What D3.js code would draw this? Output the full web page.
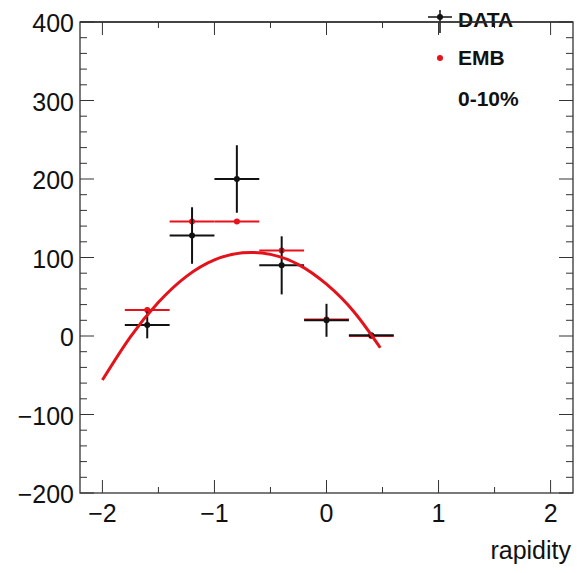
<!DOCTYPE html>
<html>
<head>
<meta charset="utf-8">
<script src="https://cdn.jsdelivr.net/npm/d3@7"></script>
<style>
  body { margin: 0; background: #fff; }
  text { font-family: "Liberation Sans", Arial, sans-serif; }
</style>
</head>
<body>
<div id="chart"></div>
<script>
// data
var binCenters = [-1.6, -1.2, -0.8, -0.4, 0, 0.4]
var binHalfWidth = 0.2
var dataValues = [14, 128, 200, 90, 20, 1]
var dataErrors = [17, 36, 43, 37, 21, 2]
var embValues = [33, 146, 146, 109, 21, 0]
var fitX = [-2, -1.75, -1.5, -1.25, -1, -0.75, -0.5, -0.25, 0, 0.25, 0.48]
var fitY = [-56, -1, 43, 76, 97, 106, 104, 91, 66, 30, -15]
var xTicks = [-2, -1, 0, 1, 2]
var yTicks = [-200, -100, 0, 100, 200, 300, 400]
var legendLabels = ['DATA', 'EMB', '0-10%']

var width = 577, height = 573
var frame = { left: 80, right: 573, top: 22, bottom: 493 }

var svg = d3.select('#chart').append('svg')
  .attr('width', width)
  .attr('height', height)

var x = d3.scaleLinear().domain([-2.2, 2.2]).range([frame.left, frame.right])
var y = d3.scaleLinear().domain([-200, 400]).range([frame.bottom, frame.top])

var axisColor = '#333'
var minus = function (d) { return d < 0 ? '\u2212' + Math.abs(d) : d }

// frame
svg.append('rect')
  .attr('x', frame.left).attr('y', frame.top)
  .attr('width', frame.right - frame.left)
  .attr('height', frame.bottom - frame.top)
  .attr('fill', 'none').attr('stroke', axisColor).attr('stroke-width', 1.3)

// ticks, ROOT style (inside, on all four sides)
var yMinor = d3.range(-200, 401, 20)
yMinor.forEach(function (v) {
  var len = v % 100 === 0 ? 14 : 7
  svg.append('line').attr('x1', frame.left).attr('x2', frame.left + len)
    .attr('y1', y(v)).attr('y2', y(v)).attr('stroke', axisColor)
  svg.append('line').attr('x1', frame.right).attr('x2', frame.right - len)
    .attr('y1', y(v)).attr('y2', y(v)).attr('stroke', axisColor)
})
var xMinor = d3.range(-2, 2.01, 0.5)
xMinor.forEach(function (v) {
  var len = Math.abs(v % 1) < 1e-6 ? 13 : 6
  svg.append('line').attr('x1', x(v)).attr('x2', x(v))
    .attr('y1', frame.bottom).attr('y2', frame.bottom - len).attr('stroke', axisColor)
  svg.append('line').attr('x1', x(v)).attr('x2', x(v))
    .attr('y1', frame.top).attr('y2', frame.top + len).attr('stroke', axisColor)
})

// tick labels
svg.selectAll('.ylab').data(yTicks).enter().append('text')
  .attr('x', frame.left - 6)
  .attr('y', function (d) { return y(d) + 10 })
  .attr('text-anchor', 'end')
  .attr('font-size', 25)
  .attr('fill', '#111')
  .text(minus)

svg.selectAll('.xlab').data(xTicks).enter().append('text')
  .attr('x', function (d) { return x(d) })
  .attr('y', 522)
  .attr('text-anchor', 'middle')
  .attr('font-size', 25)
  .attr('fill', '#111')
  .text(minus)

svg.append('text')
  .attr('x', 571).attr('y', 559)
  .attr('text-anchor', 'end')
  .attr('font-size', 25)
  .attr('fill', '#111')
  .text('rapidity')

// EMB points (red)
binCenters.forEach(function (c, i) {
  svg.append('line')
    .attr('x1', x(c - binHalfWidth)).attr('x2', x(c + binHalfWidth))
    .attr('y1', y(embValues[i])).attr('y2', y(embValues[i]))
    .attr('stroke', '#e8111a').attr('stroke-width', 2)
  svg.append('circle')
    .attr('cx', x(c)).attr('cy', y(embValues[i])).attr('r', 3)
    .attr('fill', '#e8111a')
})

// DATA points (black)
binCenters.forEach(function (c, i) {
  svg.append('line')
    .attr('x1', x(c - binHalfWidth)).attr('x2', x(c + binHalfWidth))
    .attr('y1', y(dataValues[i])).attr('y2', y(dataValues[i]))
    .attr('stroke', '#111').attr('stroke-width', 2)
  svg.append('line')
    .attr('x1', x(c)).attr('x2', x(c))
    .attr('y1', y(dataValues[i] - dataErrors[i])).attr('y2', y(dataValues[i] + dataErrors[i]))
    .attr('stroke', '#111').attr('stroke-width', 2)
  svg.append('circle')
    .attr('cx', x(c)).attr('cy', y(dataValues[i])).attr('r', 3)
    .attr('fill', '#111')
})

// fit curve
var fitPts = fitX.map(function (v, i) { return [v, fitY[i]] })
svg.append('path')
  .datum(fitPts)
  .attr('d', d3.line()
    .x(function (d) { return x(d[0]) })
    .y(function (d) { return y(d[1]) })
    .curve(d3.curveNatural))
  .attr('fill', 'none')
  .attr('stroke', '#e3121b')
  .attr('stroke-width', 3)

// legend
var legX = 458
svg.append('line').attr('x1', 428).attr('x2', 452).attr('y1', 17).attr('y2', 17)
  .attr('stroke', '#111').attr('stroke-width', 1.5)
svg.append('line').attr('x1', 440).attr('x2', 440).attr('y1', 10).attr('y2', 33)
  .attr('stroke', '#111').attr('stroke-width', 1.5)
svg.append('circle').attr('cx', 440).attr('cy', 17).attr('r', 3).attr('fill', '#111')
svg.append('circle').attr('cx', 440).attr('cy', 58).attr('r', 3).attr('fill', '#e8111a')

var legY = [27, 65, 106]
legendLabels.forEach(function (t, i) {
  svg.append('text')
    .attr('x', legX).attr('y', legY[i])
    .attr('font-size', 21).attr('font-weight', 'bold')
    .attr('fill', '#111')
    .text(t)
})

// top frame line drawn over the legend text, as in the picture
svg.append('line')
  .attr('x1', frame.left).attr('x2', frame.right)
  .attr('y1', frame.top).attr('y2', frame.top)
  .attr('stroke', axisColor).attr('stroke-width', 1.3)
</script>
</body>
</html>
